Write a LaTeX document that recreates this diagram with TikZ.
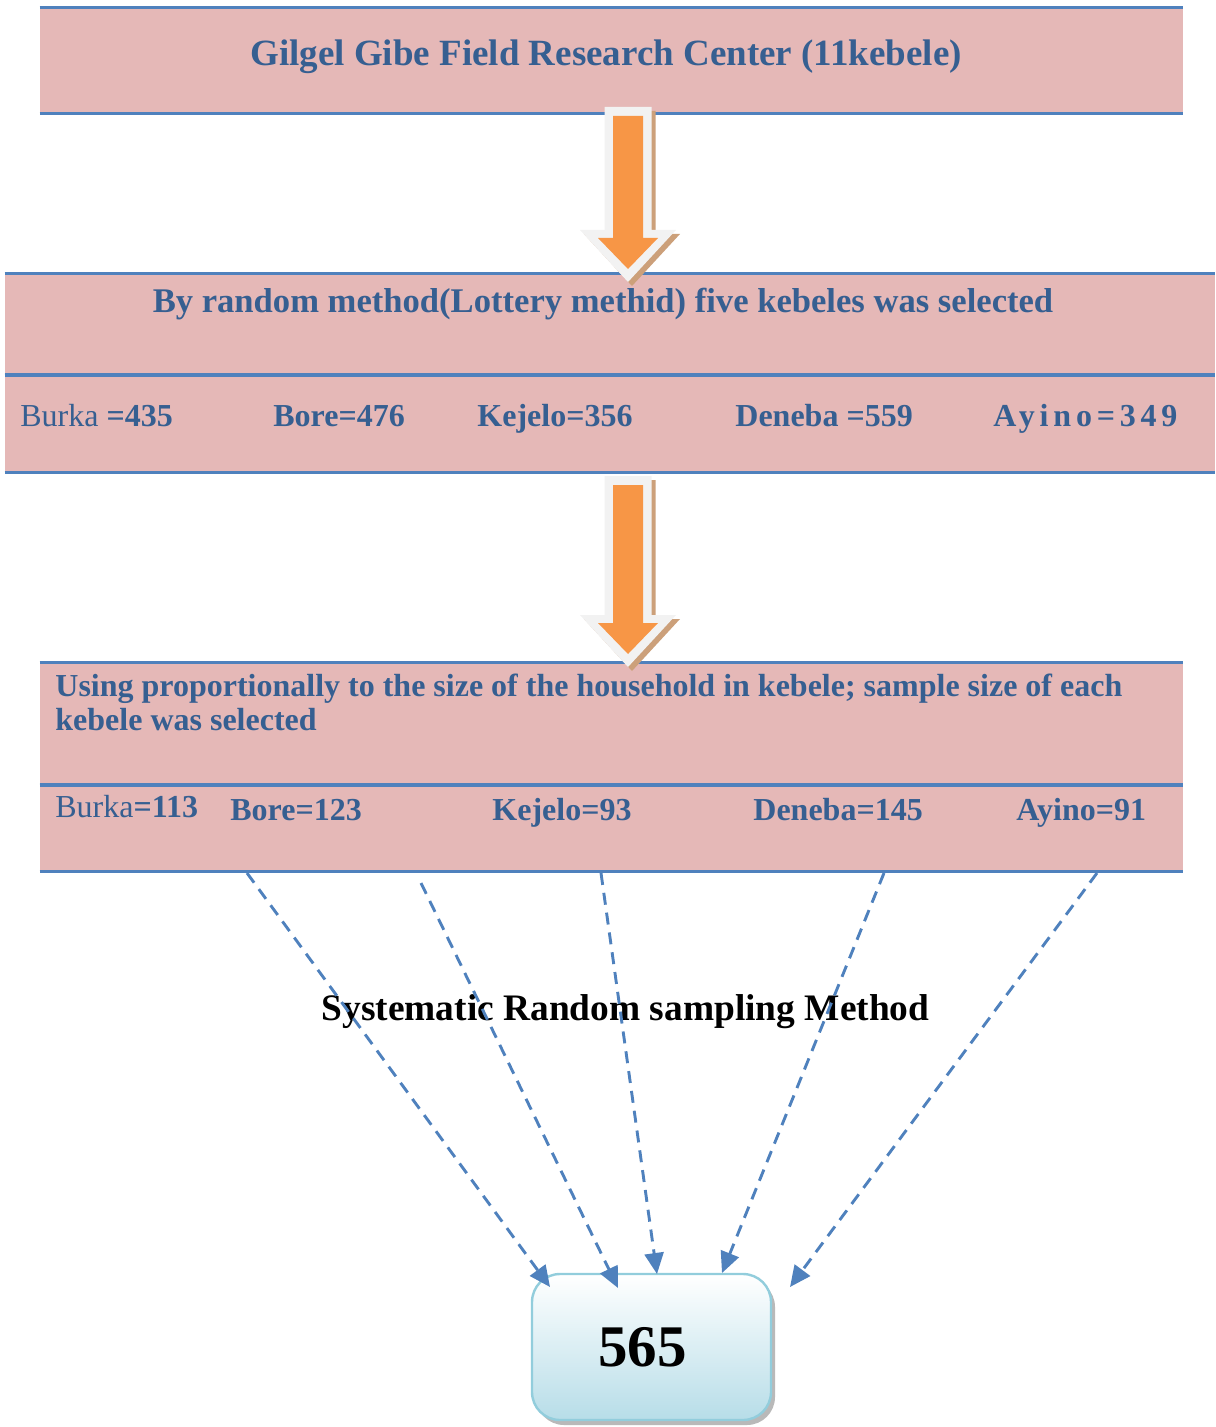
\documentclass[tikz,border=0pt]{standalone}
\usepackage{fontspec}
\setmainfont{Liberation Serif}
\usetikzlibrary{arrows.meta,fit,shadows}
\definecolor{bandpink}{RGB}{229,184,183}
\definecolor{bandblue}{RGB}{79,129,189}
\definecolor{inkblue}{RGB}{54,95,145}
\definecolor{arroworange}{RGB}{247,150,70}
\definecolor{arrowedge}{RGB}{242,242,242}
\definecolor{arrowshade}{RGB}{204,160,122}
\definecolor{boxbottom}{RGB}{183,221,232}
\definecolor{boxedge}{RGB}{146,205,220}
\tikzset{
  band/.style={fill=bandpink,inner sep=0pt},
  rule/.style={draw=bandblue,line width=1.5pt},
  headtxt/.style={text=inkblue,font=\bfseries\fontsize{18.5}{22}\selectfont,inner sep=0pt,anchor=base},
  rowtxt/.style={text=inkblue,font=\bfseries\fontsize{16}{17}\selectfont,inner sep=0pt,anchor=base west},
  feed/.style={draw=bandblue,line width=1.45pt,dash pattern=on 6pt off 4pt,-{Triangle[length=10.5pt,width=9.5pt]}},
  totalbox/.style={rounded corners=14pt,draw=boxedge,line width=1.2pt,top color=white,bottom color=boxbottom,
    minimum width=119.5pt,minimum height=73pt,inner sep=0pt,
    drop shadow={shadow xshift=2pt,shadow yshift=-2.5pt,fill=gray!55,opacity=1}}
}
\begin{document}
\begin{tikzpicture}[x=0.5pt,y=-0.5pt]
\useasboundingbox (0,0) rectangle (1215,1427);
% pink bands
\node[band,fit={(40,8) (1183,113)}] (gibe) {};
\node[band,fit={(5,274) (1215,375)}] (lottery) {};
\node[band,fit={(5,375) (1215,472)}] (kebeles) {};
\node[band,fit={(40,663) (1183,785)}] (propor) {};
\node[band,fit={(40,785) (1183,871)}] (samples) {};
\foreach \b in {gibe,lottery,kebeles,propor,samples}
  \draw[rule] (\b.north west) -- (\b.north east) (\b.south west) -- (\b.south east);
% block arrows
\foreach \y/\t in {107/282,476/667}{
  \foreach \c/\d in {arrowshade/4,arrowedge/0}
    \fill[\c,shift={(\d,\d)}] (604.5,\y) -- (651.5,\y) -- (651.5,\t-52) -- (676,\t-52) -- (628,\t)
      -- (580,\t-52) -- (604.5,\t-52) -- cycle;
  \fill[arroworange] (613,\y+9) -- (643,\y+9) -- (643,\t-44) -- (658,\t-44) -- (628,\t-13)
    -- (598,\t-44) -- (613,\t-44) -- cycle;
}
% texts
\node[headtxt] (gibetxt) at (606,66) {Gilgel Gibe Field Research Center (11kebele)};
\node[headtxt,font=\bfseries\fontsize{17.3}{21}\selectfont] (lotterytxt) at (603,312.5) {By random method(Lottery methid) five kebeles was selected};
\node[rowtxt] (burka) at (20,426) {{\mdseries Burka }=435};
\node[rowtxt] (bore) at (273,426) {Bore=476};
\node[rowtxt] (kejelo) at (477,426) {Kejelo=356};
\node[rowtxt] (deneba) at (735,426) {Deneba =559};
\node[rowtxt] (ayino) at (993,426) {\addfontfeatures{LetterSpace=15}Ayino=349};
\node[rowtxt,anchor=west,align=left] (proportxt) at (55,702) {Using proportionally to the size of the household in kebele; sample size of each\\kebele was selected};
\node[rowtxt] (burkas) at (55,817.5) {{\mdseries Burka}=113};
\node[rowtxt] (bores) at (230,820.5) {Bore=123};
\node[rowtxt] (kejelos) at (492,820.5) {Kejelo=93};
\node[rowtxt] (denebas) at (753,820.5) {Deneba=145};
\node[rowtxt] (ayinos) at (1016,820.5) {Ayino=91};
\node[headtxt,text=black,font=\bfseries\fontsize{18.7}{22}\selectfont] (method) at (625.5,1020) {Systematic Random sampling Method};
\node[totalbox] (total) at (651.5,1347) {\bfseries\fontsize{29.5}{36}\selectfont 565\hspace*{9pt}};
% dashed feeds into the total
\coordinate (s1) at (247,873); \coordinate (s2) at (421,883); \coordinate (s3) at (601,873);
\coordinate (s4) at (884,873); \coordinate (s5) at (1097,873);
\coordinate (e1) at (550,1287); \coordinate (e2) at (618,1288); \coordinate (e3) at (657,1274);
\coordinate (e4) at (722,1273); \coordinate (e5) at (790,1287);
\foreach \i in {1,...,5}
  \draw[feed] (s\i) -- (e\i);
\end{tikzpicture}
\end{document}
